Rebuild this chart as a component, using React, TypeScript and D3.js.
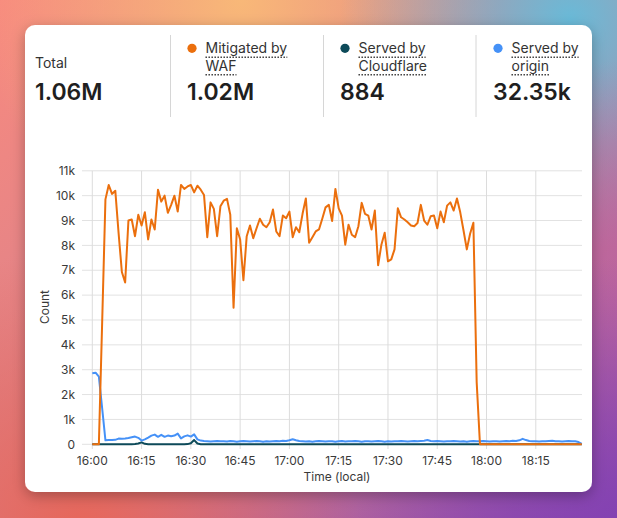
import React, { useLayoutEffect, useRef, useState } from "react";
import * as d3 from "d3";

// ---------- DATA ----------
const startTime = new Date(2024, 0, 1, 16, 0);
const endTime = new Date(2024, 0, 1, 18, 29);

// Mitigated by WAF (requests per minute)
const mitigatedByWaf = [
  0, 0, 0, 4900, 9850, 10430, 10070, 10200, 8500, 6930,
  6510, 9000, 9040, 8370, 9230, 8800, 9330, 8240, 9040, 8640,
  10240, 9760, 10000, 9310, 9630, 10000, 9360, 10430, 10270, 10370,
  10430, 10130, 10400, 10240, 10030, 8330, 9730, 9470, 8370, 9570,
  9800, 9870, 9230, 5490, 8690, 8240, 6600, 8370, 8800, 8290,
  8690, 9070, 8830, 8730, 8930, 9440, 8560, 8370, 9200, 9090,
  9360, 8330, 8730, 8530, 9270, 9890, 8110, 8330, 8560, 8640,
  9070, 9530, 9630, 8980, 10270, 9490, 9200, 8030, 8830, 8430,
  8330, 8770, 9710, 9270, 9200, 8640, 9400, 7200, 8030, 8510,
  7360, 7440, 7840, 9490, 9130, 9040, 8930, 8800, 8770, 8900,
  9630, 9000, 8830, 9170, 9200, 8690, 9360, 8930, 9600, 9730,
  9400, 9890, 9330, 8600, 7840, 8470, 8910, 2500, 0, 0,
  0, 0, 0, 0, 0, 0, 0, 0, 0, 0,
  0, 0, 0, 0, 0, 0, 0, 0, 0, 0,
  0, 0, 0, 0, 0, 0, 0, 0, 0, 0,
];

// Served by Cloudflare
const servedByCloudflare = [
  0, 0, 0, 2, 3, 4, 3, 5, 4, 3,
  5, 4, 6, 8, 30, 80, 20, 6, 5, 4,
  5, 6, 4, 5, 6, 5, 4, 6, 5, 8,
  40, 170, 30, 6, 5, 4, 3, 4, 3, 5,
  4, 3, 4, 3, 5, 4, 3, 4, 5, 3,
  4, 3, 5, 4, 3, 4, 5, 3, 4, 5,
  6, 4, 3, 4, 5, 3, 4, 3, 5, 4,
  3, 4, 5, 3, 4, 3, 5, 4, 3, 4,
  5, 3, 4, 3, 4, 5, 3, 4, 3, 5,
  4, 3, 4, 5, 3, 4, 3, 5, 4, 3,
  4, 5, 3, 4, 3, 4, 5, 3, 4, 3,
  5, 4, 3, 4, 5, 3, 4, 3, 2, 2,
  1, 1, 2, 1, 1, 2, 1, 1, 2, 1,
  1, 2, 1, 1, 2, 1, 1, 2, 1, 1,
  2, 1, 1, 2, 1, 1, 2, 1, 1, 0,
];

// Served by origin
const servedByOrigin = [
  2860, 2880, 2720, 1450, 160, 170, 170, 180, 230, 220,
  230, 250, 280, 310, 260, 150, 200, 270, 350, 390,
  300, 380, 300, 350, 320, 350, 430, 240, 320, 360,
  310, 400, 200, 150, 130, 120, 110, 120, 130, 120,
  120, 110, 130, 120, 100, 120, 130, 120, 110, 120,
  130, 120, 100, 120, 110, 120, 130, 120, 140, 130,
  160, 200, 160, 130, 120, 110, 120, 100, 120, 130,
  120, 110, 120, 120, 100, 120, 130, 110, 120, 120,
  130, 120, 100, 120, 120, 110, 120, 130, 120, 100,
  120, 110, 120, 120, 130, 120, 110, 120, 130, 120,
  130, 140, 170, 130, 120, 130, 120, 110, 120, 120,
  130, 120, 110, 120, 100, 120, 130, 120, 120, 130,
  120, 110, 120, 120, 110, 120, 130, 120, 140, 130,
  160, 220, 170, 130, 120, 120, 110, 120, 120, 130,
  140, 120, 120, 110, 120, 130, 120, 120, 90, 20,
];

const yTickValues = [0, 1000, 2000, 3000, 4000, 5000, 6000, 7000, 8000, 9000, 10000, 11000];

const summaryLabels = ["Total", "Mitigated by WAF", "Served by Cloudflare", "Served by origin"];
const summaryLines = [["Total"], ["Mitigated by", "WAF"], ["Served by", "Cloudflare"], ["Served by", "origin"]];
const summaryValues = ["1.06M", "1.02M", "884", "32.35k"];
const seriesColors = [null, "#eb6f0d", "#0d4a59", "#4591f7"];

// ---------- LAYOUT ----------
const W = 617;
const H = 518;
const FONT = "Inter, 'Noto Sans', sans-serif";

const x = d3.scaleTime().domain([startTime, endTime]).range([92.3, 581.8]);
const y = d3.scaleLinear().domain([0, 11000]).range([444.3, 170.8]);
const timeAt = (i: number) => d3.timeMinute.offset(startTime, i);

const lineGen = d3
  .line<number>()
  .x((_, i) => x(timeAt(i)))
  .y((d) => y(d))
  .curve(d3.curveLinear);

const xTicks = d3.timeMinute.every(15)!.range(startTime, d3.timeMinute.offset(endTime, 1));
const fmtTime = d3.timeFormat("%H:%M");
const fmtY = (v: number) => (v === 0 ? "0" : `${v / 1000}k`);

const colX = [35, 187, 340, 493];
const dividerX = [170.5, 323.5, 476];

export default function App() {
  const refs = useRef<(SVGTextElement | null)[]>([]);
  const [widths, setWidths] = useState<number[]>([]);

  useLayoutEffect(() => {
    const w = refs.current.map((el) => (el ? el.getComputedTextLength() : 0));
    setWidths(w);
  }, []);

  let refIdx = 0;

  return (
    <>
      <style>{`html,body{margin:0;padding:0;overflow:hidden;}`}</style>
      <svg width={W} height={H} viewBox={`0 0 ${W} ${H}`} style={{ display: "block" }} fontFamily={FONT}>
        <defs>
          <linearGradient id="bgBase" x1="0" y1="0" x2="1" y2="1">
            <stop offset="0" stopColor="#f88a7f" />
            <stop offset="0.5" stopColor="#d8808c" />
            <stop offset="1" stopColor="#8d4aae" />
          </linearGradient>
          <radialGradient id="gOrange" cx="240" cy="0" r="260" gradientUnits="userSpaceOnUse">
            <stop offset="0" stopColor="#f8b878" stopOpacity="1" />
            <stop offset="1" stopColor="#f8b878" stopOpacity="0" />
          </radialGradient>
          <radialGradient id="gBlue" cx="570" cy="20" r="230" gradientUnits="userSpaceOnUse">
            <stop offset="0" stopColor="#69bad8" stopOpacity="1" />
            <stop offset="1" stopColor="#69bad8" stopOpacity="0" />
          </radialGradient>
          <radialGradient id="gPink" cx="630" cy="300" r="240" gradientUnits="userSpaceOnUse">
            <stop offset="0" stopColor="#c0679c" stopOpacity="0.9" />
            <stop offset="1" stopColor="#c0679c" stopOpacity="0" />
          </radialGradient>
          <radialGradient id="gRed" cx="80" cy="530" r="280" gradientUnits="userSpaceOnUse">
            <stop offset="0" stopColor="#e7675a" stopOpacity="1" />
            <stop offset="1" stopColor="#e7675a" stopOpacity="0" />
          </radialGradient>
          <radialGradient id="gPurple" cx="617" cy="518" r="260" gradientUnits="userSpaceOnUse">
            <stop offset="0" stopColor="#8442b2" stopOpacity="1" />
            <stop offset="1" stopColor="#8442b2" stopOpacity="0" />
          </radialGradient>
          <filter id="shadow" x="-10%" y="-10%" width="120%" height="125%">
            <feDropShadow dx="0" dy="4" stdDeviation="7" floodColor="#000" floodOpacity="0.28" />
          </filter>
        </defs>

        {/* background */}
        <rect width={W} height={H} fill="url(#bgBase)" />
        <rect width={W} height={H} fill="url(#gOrange)" />
        <rect width={W} height={H} fill="url(#gBlue)" />
        <rect width={W} height={H} fill="url(#gPink)" />
        <rect width={W} height={H} fill="url(#gRed)" />
        <rect width={W} height={H} fill="url(#gPurple)" />

        {/* card */}
        <rect x={25} y={25} width={567} height={467} rx={10} fill="#fff" filter="url(#shadow)" />

        {/* summary header */}
        {dividerX.map((dx) => (
          <line key={dx} x1={dx} x2={dx} y1={35} y2={117} stroke="#d6d6d6" strokeWidth={1} />
        ))}
        {summaryLabels.map((label, i) => {
          const color = seriesColors[i];
          const lines = summaryLines[i];
          const textX = color ? colX[i] + 18.5 : colX[i];
          return (
            <g key={label}>
              {color && <circle cx={colX[i] + 5} cy={48.3} r={4.6} fill={color} />}
              {lines.length === 1 ? (
                <text x={textX} y={67.7} fontSize={14} fill="#333">
                  {lines[0]}
                </text>
              ) : (
                lines.map((ln, j) => {
                  const idx = refIdx++;
                  const baseY = 53.3 + j * 17.4;
                  const w = widths[idx] || 0;
                  return (
                    <g key={ln}>
                      <text
                        ref={(el) => {
                          refs.current[idx] = el;
                        }}
                        x={textX}
                        y={baseY}
                        fontSize={14}
                        fill="#333"
                      >
                        {ln}
                      </text>
                      {w > 0 && (
                        <line
                          x1={textX}
                          x2={textX + w}
                          y1={baseY + 4}
                          y2={baseY + 4}
                          stroke="#333"
                          strokeWidth={1.4}
                          strokeDasharray="1.4 1.6"
                        />
                      )}
                    </g>
                  );
                })
              )}
              <text x={colX[i]} y={100} fontSize={23} fontWeight={600} fill="#1f1f1f">
                {summaryValues[i]}
              </text>
            </g>
          );
        })}

        {/* grid */}
        {yTickValues.map((v) => (
          <line key={"h" + v} x1={82} x2={582} y1={y(v)} y2={y(v)} stroke="#e2e2e2" strokeWidth={1} />
        ))}
        {xTicks.map((t) => (
          <line
            key={"v" + t.getTime()}
            x1={x(t)}
            x2={x(t)}
            y1={y(11000)}
            y2={449}
            stroke="#dcdcdc"
            strokeWidth={1}
          />
        ))}

        {/* y tick labels */}
        {yTickValues.map((v) => (
          <text key={"yl" + v} x={75} y={y(v)} dy="0.35em" textAnchor="end" fontSize={12} fill="#3a3a3a">
            {fmtY(v)}
          </text>
        ))}
        {/* x tick labels */}
        {xTicks.map((t) => (
          <text key={"xl" + t.getTime()} x={x(t)} y={465} textAnchor="middle" fontSize={12} fill="#3a3a3a">
            {fmtTime(t)}
          </text>
        ))}

        <text x={337} y={481} textAnchor="middle" fontSize={12} fill="#3a3a3a">
          Time (local)
        </text>
        <text
          transform={`translate(49,307) rotate(-90)`}
          textAnchor="middle"
          fontSize={12}
          fill="#3a3a3a"
        >
          Count
        </text>

        {/* series */}
        <path d={lineGen(servedByCloudflare) || ""} fill="none" stroke={seriesColors[2]!} strokeWidth={2} strokeLinejoin="round" />
        <path d={lineGen(servedByOrigin) || ""} fill="none" stroke={seriesColors[3]!} strokeWidth={2} strokeLinejoin="round" />
        <path d={lineGen(mitigatedByWaf) || ""} fill="none" stroke={seriesColors[1]!} strokeWidth={2} strokeLinejoin="round" />
      </svg>
    </>
  );
}
